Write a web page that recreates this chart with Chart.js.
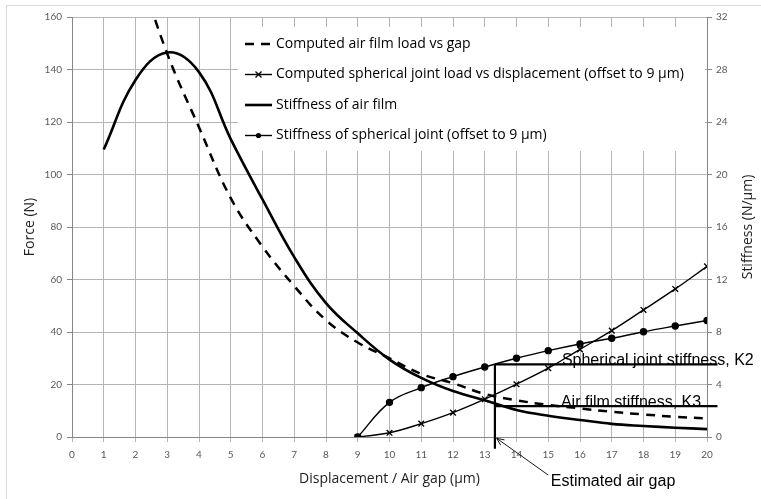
<!DOCTYPE html>
<html><head><meta charset="utf-8">
<script src="https://cdn.jsdelivr.net/npm/chart.js@4.4.1/dist/chart.umd.min.js"></script>
<style>html,body{margin:0;padding:0;background:#fff}canvas{display:block}</style>
</head><body>
<canvas id="c" width="761" height="499"></canvas>
<script>
// ---- data ----
const airFilmLoadX = [2,3,4,5,6,7,8,9,10,11,12,13,14,15,16,17,18,19,20];
const airFilmLoad  = [182,146,118,91,72.5,57.5,44.5,36,30,24,20.5,16.4,14,12.2,10.9,9.6,8.6,7.7,7.1];
const jointX       = [9,10,11,12,13,14,15,16,17,18,19,20];
const jointLoad    = [0,1.6,5.1,9.3,14.4,20.1,26.2,33.4,40.5,48.4,56.4,65];
const jointStiff   = [0,2.64,3.76,4.6,5.33,6.0,6.58,7.09,7.52,8.02,8.46,8.88];
const stiffX       = [1,2,3,4,5,6,7,8,9,10,11,12,13,14,15,16,17,18,19,20];
const airFilmStiff = [21.9,27.2,29.3,27.8,22.7,18.1,13.7,10.2,7.9,5.9,4.5,3.5,2.8,2.06,1.62,1.3,1.0,0.84,0.71,0.6];
const seriesNames  = ['Computed air film load vs gap','Computed spherical joint load vs displacement (offset to 9 \u03bcm)','Stiffness of air film','Stiffness of spherical joint (offset to 9 \u03bcm)'];
// annotation values
const estimatedGap = 13.32;   // µm
const k2Stiff = 5.54;         // N/µm (right axis)
const k3Stiff = 2.36;         // N/µm (right axis)
const lineEndX = 20.33;
const gapLineBottom = -4.5;   // N (left axis)
const labelK2 = 'Spherical joint stiffness, K2';
const labelK3 = 'Air film stiffness, K3';
const labelGap = 'Estimated air gap';

const pts = (xs, ys) => xs.map((x,i)=>({x, y: ys[i]}));
const TICK_FONT = {family:'Lato', size:10};
const TICK_COLOR = '#595959';
const GRID = '#b5b5b5';
const AXIS = '#868686';
const TITLE_FONT = {family:'"Open Sans"', size:14};

const deco = {
  id: 'deco',
  beforeDraw(chart){
    const ctx = chart.ctx;
    ctx.save();
    ctx.fillStyle = '#fff';
    ctx.fillRect(0,0,chart.width,chart.height);
    ctx.strokeStyle = '#d9d9d9';
    ctx.lineWidth = 1;
    ctx.strokeRect(6.5,5.5,chart.width+10,chart.height+10);
    ctx.restore();
  },
  afterDraw(chart){
    const ctx = chart.ctx;
    const xs = chart.scales.x, ys = chart.scales.y, ys1 = chart.scales.y1;
    ctx.save();
    // ---- legend ----
    ctx.fillStyle = '#fff';
    ctx.fillRect(238, 27, 467, 124);
    const rowsY = [44, 74.5, 105, 135.5];
    ctx.font = '14px "Open Sans"';
    ctx.textBaseline = 'middle';
    ctx.textAlign = 'left';
    rowsY.forEach((y,i)=>{
      const ds = chart.data.datasets[i];
      ctx.strokeStyle = '#000';
      ctx.lineWidth = ds.borderWidth;
      ctx.setLineDash(ds.borderDash || []);
      ctx.beginPath(); ctx.moveTo(245, y); ctx.lineTo(272, y); ctx.stroke();
      ctx.setLineDash([]);
      if (i === 1) {
        ctx.lineWidth = 1.3;
        const r = 3;
        ctx.beginPath();
        ctx.moveTo(258.5-r, y-r); ctx.lineTo(258.5+r, y+r);
        ctx.moveTo(258.5-r, y+r); ctx.lineTo(258.5+r, y-r);
        ctx.stroke();
      }
      if (i === 3) {
        ctx.fillStyle = '#000';
        ctx.beginPath(); ctx.arc(258.5, y, 2.6, 0, Math.PI*2); ctx.fill();
      }
      ctx.fillStyle = '#000';
      ctx.fillText(seriesNames[i], 276, y);
    });
    // ---- right axis title ----
    ctx.save();
    ctx.translate(748, (chart.chartArea.top + chart.chartArea.bottom)/2);
    ctx.rotate(-Math.PI/2);
    ctx.textAlign = 'center';
    ctx.fillStyle = '#222';
    ctx.font = '14px "Open Sans"';
    ctx.fillText('Stiffness (N/\u03bcm)', 0, 0);
    ctx.restore();
    // ---- annotations ----
    const gx = xs.getPixelForValue(estimatedGap);
    const ex = xs.getPixelForValue(lineEndX);
    const yK2 = ys1.getPixelForValue(k2Stiff);
    const yK3 = ys1.getPixelForValue(k3Stiff);
    const yBot = ys.getPixelForValue(gapLineBottom);
    ctx.strokeStyle = '#000';
    ctx.lineWidth = 2.2;
    ctx.beginPath();
    ctx.moveTo(gx, yK2); ctx.lineTo(gx, yBot);
    ctx.moveTo(gx, yK2); ctx.lineTo(ex, yK2);
    ctx.moveTo(gx, yK3); ctx.lineTo(ex, yK3);
    ctx.stroke();
    ctx.fillStyle = '#000';
    ctx.font = '16px "Liberation Sans"';
    ctx.textBaseline = 'alphabetic';
    ctx.textAlign = 'left';
    ctx.fillText(labelK2, xs.getPixelForValue(15.43), yK2 + 1);
    ctx.fillText(labelK3, xs.getPixelForValue(15.40), yK3 + 1);
    ctx.textBaseline = 'middle';
    ctx.fillText(labelGap, xs.getPixelForValue(15.08), ys.getPixelForValue(-16.8));
    // arrow
    const tx = xs.getPixelForValue(15.0), ty = ys.getPixelForValue(-14.5);
    const hx = xs.getPixelForValue(13.375), hy = ys.getPixelForValue(-0.5);
    ctx.lineWidth = 0.9;
    ctx.beginPath(); ctx.moveTo(tx, ty); ctx.lineTo(hx, hy); ctx.stroke();
    const ang = Math.atan2(hy-ty, hx-tx);
    const L = 8, a = 0.42;
    ctx.beginPath();
    ctx.moveTo(hx - L*Math.cos(ang-a), hy - L*Math.sin(ang-a));
    ctx.lineTo(hx, hy);
    ctx.lineTo(hx - L*Math.cos(ang+a), hy - L*Math.sin(ang+a));
    ctx.stroke();
    ctx.restore();
  }
};

new Chart(document.getElementById('c'), {
  type: 'line',
  data: {
    datasets: [
      { label: seriesNames[0], data: pts(airFilmLoadX, airFilmLoad), yAxisID: 'y',
        borderColor:'#000', borderWidth:2.5, borderDash:[9,7], pointRadius:0, tension:0.4, fill:false },
      { label: seriesNames[1], data: pts(jointX, jointLoad), yAxisID: 'y',
        borderColor:'#000', borderWidth:1.4, pointStyle:'crossRot', pointRadius:4, pointBorderWidth:1.4,
        pointBorderColor:'#000', tension:0.4, fill:false },
      { label: seriesNames[2], data: pts(stiffX, airFilmStiff), yAxisID: 'y1',
        borderColor:'#000', borderWidth:2.6, pointRadius:0, tension:0.4, fill:false },
      { label: seriesNames[3], data: pts(jointX, jointStiff), yAxisID: 'y1',
        borderColor:'#000', borderWidth:1.4, pointStyle:'circle', pointRadius:3, pointBackgroundColor:'#000',
        pointBorderColor:'#000', tension:0.4, fill:false }
    ]
  },
  options: {
    responsive:false, animation:false, events:[],
    layout:{padding:{top:17,left:0,right:0,bottom:0}},
    plugins:{legend:{display:false}, tooltip:{enabled:false}},
    scales:{
      x:{ type:'linear', min:0, max:20,
        ticks:{stepSize:1, font:TICK_FONT, color:TICK_COLOR, padding:7, maxRotation:0},
        grid:{color:GRID, tickLength:5, tickColor:GRID},
        border:{color:AXIS},
        title:{display:true, text:'Displacement / Air gap (\u03bcm)', font:TITLE_FONT, color:'#222', padding:{top:0,bottom:11.6}},
        afterFit(s){ s.height = 62; }
      },
      y:{ type:'linear', position:'left', min:0, max:160,
        ticks:{stepSize:20, font:TICK_FONT, color:TICK_COLOR, padding:5},
        grid:{color:GRID, tickLength:5, tickColor:AXIS},
        border:{color:AXIS},
        title:{display:true, text:'Force (N)', font:TITLE_FONT, color:'#222', padding:{top:21.6,bottom:0}},
        afterFit(s){ s.width = 72; }
      },
      y1:{ type:'linear', position:'right', min:0, max:32,
        ticks:{stepSize:4, font:TICK_FONT, color:TICK_COLOR, padding:4},
        grid:{drawOnChartArea:false, tickLength:5, tickColor:AXIS},
        border:{color:AXIS},
        afterFit(s){ s.width = 54; }
      }
    }
  },
  plugins:[deco]
});
</script>
</body></html>
